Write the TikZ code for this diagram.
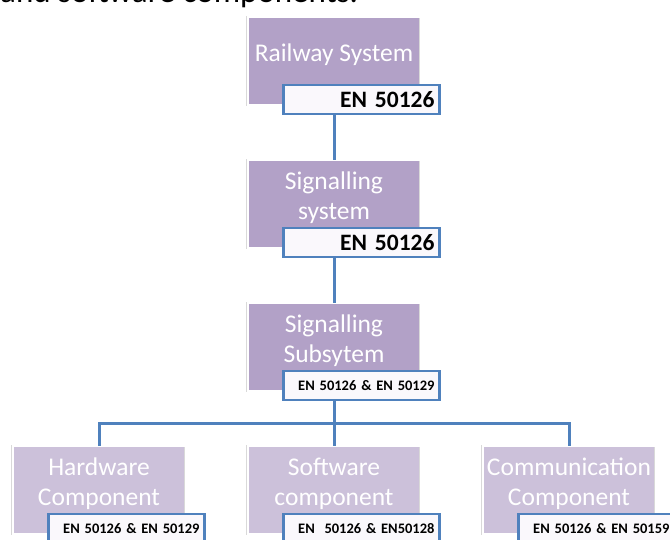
\documentclass[tikz,border=0pt]{standalone}
\usepackage{fontspec}
\setmainfont{Carlito}
\usetikzlibrary{positioning}

\definecolor{boxpurple}{RGB}{178,161,199}
\definecolor{lightpurple}{RGB}{204,193,218}
\definecolor{enblue}{RGB}{79,129,189}
\definecolor{enfill}{RGB}{250,248,252}

\begin{document}
\begin{tikzpicture}[x=1pt,y=1pt,node distance=143pt,
	box/.style={rectangle,fill=boxpurple,draw=black!15,double=white,double distance=2pt,
		minimum width=173pt,minimum height=88pt,outer sep=0pt,text=white,align=center,
		text depth=16pt,font=\fontsize{25.5}{30}\selectfont},
	part/.style={box,fill=lightpurple},
	norm/.style={rectangle,anchor=north west,draw=enblue,fill=enfill,line width=2.5pt,
		minimum width=156pt,minimum height=29pt,outer sep=0pt,inner xsep=5pt,inner ysep=0pt,
		text width=146pt,align=right,font=\bfseries\fontsize{23.5}{25}\selectfont},
	smallnorm/.style={norm,font=\bfseries\fontsize{14.5}{16}\selectfont},
	conn/.style={draw=enblue,line width=3pt}]
\useasboundingbox (0,0) rectangle (670,-539);
\clip (0,0) rectangle (670,-539);

\node[anchor=base west,inner sep=0pt,font=\fontsize{33}{36}\selectfont] (intro) at (0,-2) {and software components.};

\node[box] (RS) at (334,-61) {Railway System};
\node[box] (SS) [below of=RS] {Signalling\\system};
\node[box] (SU) [below of=SS] {Signalling\\Subsytem};
\node[part] (SW) [below of=SU] {Software\\component};
\node[part,node distance=235pt] (HW) [left of=SW] {Hardware\\Component};
\node[part,node distance=235pt] (CC) [right of=SW] {Communication\\Component};

\node[norm] (RSen) at ([xshift=36pt,yshift=20pt]RS.south west) {EN 50126};
\node[norm] (SSen) at ([xshift=36pt,yshift=20pt]SS.south west) {EN 50126};
\node[smallnorm] (SUen) at ([xshift=36pt,yshift=20pt]SU.south west) {EN 50126 \& EN 50129};
\node[smallnorm] (HWen) at ([xshift=36pt,yshift=20pt]HW.south west) {EN 50126 \& EN 50129};
\node[smallnorm] (SWen) at ([xshift=36pt,yshift=20pt]SW.south west) {EN\ \ 50126 \& EN50128};
\node[smallnorm] (CCen) at ([xshift=36pt,yshift=20pt]CC.south west) {EN 50126 \& EN 50159};

\path[conn] (RS |- RSen.south) edge (SS.north)
	(SS |- SSen.south) edge (SU.north)
	(SU |- SUen.south) edge (SW.north);
\draw[conn] (HW.north) -- ++(0,23pt) -| (CC.north);
\end{tikzpicture}
\end{document}
